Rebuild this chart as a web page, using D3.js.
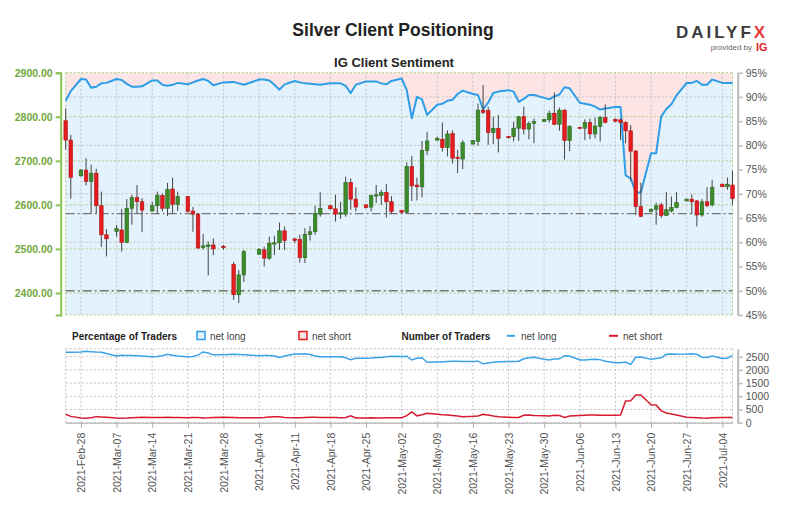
<!DOCTYPE html>
<html><head><meta charset="utf-8">
<script src="https://cdn.jsdelivr.net/npm/d3@7"></script>
<style>
body{margin:0;background:#fff;}
svg{display:block;font-family:"Liberation Sans",Arial,sans-serif;}
</style>
</head><body>
<svg id="c" width="800" height="520"></svg>
<script>
// ---------- DATA ----------
const dates = [
 "2021-02-25","2021-02-26",
 "2021-02-28","2021-03-01","2021-03-02","2021-03-03","2021-03-04","2021-03-05",
 "2021-03-07","2021-03-08","2021-03-09","2021-03-10","2021-03-11","2021-03-12",
 "2021-03-14","2021-03-15","2021-03-16","2021-03-17","2021-03-18","2021-03-19",
 "2021-03-21","2021-03-22","2021-03-23","2021-03-24","2021-03-25","2021-03-26",
 "2021-03-28","2021-03-30","2021-03-31","2021-04-01",
 "2021-04-04","2021-04-05","2021-04-06","2021-04-07","2021-04-08","2021-04-09",
 "2021-04-11","2021-04-12","2021-04-13","2021-04-14","2021-04-15","2021-04-16",
 "2021-04-18","2021-04-19","2021-04-20","2021-04-21","2021-04-22","2021-04-23",
 "2021-04-25","2021-04-26","2021-04-27","2021-04-28","2021-04-29","2021-04-30",
 "2021-05-02","2021-05-03","2021-05-04","2021-05-05","2021-05-06","2021-05-07",
 "2021-05-09","2021-05-10","2021-05-11","2021-05-12","2021-05-13","2021-05-14",
 "2021-05-16","2021-05-17","2021-05-18","2021-05-19","2021-05-20","2021-05-21",
 "2021-05-23","2021-05-24","2021-05-25","2021-05-26","2021-05-27","2021-05-28",
 "2021-05-30","2021-05-31","2021-06-01","2021-06-02","2021-06-03","2021-06-04",
 "2021-06-06","2021-06-07","2021-06-08","2021-06-09","2021-06-10","2021-06-11",
 "2021-06-13","2021-06-14","2021-06-15","2021-06-16","2021-06-17","2021-06-18",
 "2021-06-20","2021-06-21","2021-06-22","2021-06-23","2021-06-24","2021-06-25",
 "2021-06-27","2021-06-28","2021-06-29","2021-06-30","2021-07-01","2021-07-02",
 "2021-07-04","2021-07-05","2021-07-06"
];
const open = [
 2791,2747,
 2666,2679,2653,2672,2598,2532,
 2540,2543,2515,2592,2617,2607,
 2586,2598,2621,2592,2636,2601,
 2619,2586,2579,2503,2505,2509,
 2506,2465,2396,2441,
 2488,2498,2479,2511,2514,2541,
 2523,2522,2480,2533,2539,2579,
 2598,2591,2579,2579,2651,2613,
 2600,2595,2620,2621,2628,2607,
 2587,2583,2687,2645,2641,2723,
 2747,2749,2730,2762,2708,2704,
 2738,2744,2815,2814,2764,2773,
 2755,2755,2774,2800,2772,2785,
 2789,2793,2808,2783,2815,2746,
 2776,2774,2787,2761,2778,2798,
 2794,2793,2787,2768,2722,2596,
 2585,2590,2600,2576,2586,2594,
 2609,2613,2609,2577,2607,2600,
 2647,2641,2645
];
const high = [
 2819,2759,
 2681,2706,2691,2682,2630,2545,
 2554,2591,2613,2623,2645,2615,
 2607,2630,2626,2650,2662,2630,
 2620,2595,2581,2534,2517,2524,
 2509,2471,2452,2498,
 2502,2505,2528,2530,2560,2551,
 2524,2532,2547,2552,2598,2629,
 2600,2623,2607,2664,2660,2640,
 2601,2623,2645,2634,2647,2620,
 2588,2696,2711,2662,2745,2766,
 2755,2787,2769,2769,2725,2747,
 2747,2830,2872,2823,2800,2804,
 2756,2789,2802,2823,2789,2796,
 2795,2814,2855,2821,2817,2781,
 2777,2794,2796,2798,2802,2828,
 2796,2796,2790,2781,2725,2650,
 2592,2605,2605,2629,2619,2629,
 2614,2624,2611,2613,2640,2657,
 2648,2662,2677
];
const low = [
 2725,2614,
 2664,2644,2581,2581,2505,2483,
 2528,2494,2513,2555,2581,2538,
 2585,2579,2585,2575,2581,2586,
 2583,2539,2500,2498,2440,2486,
 2498,2384,2377,2425,
 2486,2460,2475,2486,2498,2498,
 2513,2469,2468,2519,2532,2573,
 2589,2562,2568,2573,2589,2585,
 2592,2585,2604,2600,2571,2580,
 2581,2581,2609,2610,2617,2713,
 2746,2721,2710,2694,2672,2681,
 2737,2734,2806,2736,2738,2719,
 2751,2744,2745,2760,2749,2740,
 2788,2787,2781,2768,2703,2722,
 2773,2747,2749,2751,2744,2785,
 2787,2747,2740,2654,2577,2572,
 2583,2555,2570,2575,2583,2592,
 2608,2579,2551,2573,2595,2596,
 2641,2634,2600
];
const close = [
 2747,2662,
 2679,2653,2672,2598,2532,2523,
 2546,2515,2592,2617,2607,2588,
 2598,2622,2592,2635,2601,2619,
 2585,2579,2502,2507,2509,2500,
 2503,2396,2441,2494,
 2499,2479,2513,2514,2541,2519,
 2519,2480,2533,2539,2581,2592,
 2591,2579,2582,2651,2613,2595,
 2594,2621,2623,2628,2607,2585,
 2583,2687,2643,2641,2723,2745,
 2751,2730,2761,2706,2705,2741,
 2746,2815,2810,2764,2774,2751,
 2753,2774,2800,2772,2785,2789,
 2794,2808,2783,2815,2746,2778,
 2774,2787,2761,2779,2798,2787,
 2790,2787,2768,2722,2596,2574,
 2590,2598,2576,2589,2594,2605,
 2613,2607,2577,2607,2598,2640,
 2641,2647,2614
];
// IG client sentiment: % of traders net long
const pctLong = [
 89.2,91.2,
 93.7,93.6,91.9,92.1,92.8,92.9,
 93.7,93.5,92.7,92.1,92.1,92.2,
 93.4,93.4,92.5,92.3,92.5,92.9,
 92.6,93.0,93.4,93.7,93.3,92.4,
 93.0,93.1,92.8,92.5,
 93.6,93.6,93.4,92.5,91.5,92.6,
 93.3,93.0,92.8,92.7,92.6,92.5,
 92.8,92.8,92.8,92.3,90.8,92.5,
 93.2,93.2,93.2,92.8,92.6,93.3,
 93.8,91.4,85.6,90.0,89.5,86.3,
 88.4,88.6,89.2,89.4,90.6,91.3,
 90.6,90.4,87.5,88.8,90.8,91.1,
 91.4,91.1,89.0,89.6,90.4,90.4,
 89.8,89.5,90.1,90.5,92.0,91.8,
 88.8,88.6,88.4,88.0,87.4,87.6,
 87.9,87.9,73.8,73.2,70.3,70.3,
 78.4,78.4,86.0,87.5,88.5,90.3,
 92.9,92.9,93.3,92.5,92.5,93.6,
 92.9,92.9,92.9
];
// number of traders
const numLong = [
 2667,2670,
 2680,2705,2690,2675,2665,2620,
 2530,2555,2550,2545,2540,2530,
 2500,2510,2540,2590,2560,2530,
 2500,2510,2560,2680,2640,2570,
 2570,2590,2580,2570,
 2540,2545,2550,2530,2470,2530,
 2600,2600,2610,2580,2530,2500,
 2500,2500,2500,2460,2390,2440,
 2440,2450,2470,2470,2500,2520,
 2510,2520,2375,2440,2460,2290,
 2300,2300,2320,2330,2330,2320,
 2320,2330,2230,2260,2290,2310,
 2320,2320,2330,2420,2460,2480,
 2400,2380,2410,2420,2540,2530,
 2380,2380,2390,2400,2390,2330,
 2270,2270,2300,2200,2480,2490,
 2400,2430,2460,2590,2600,2590,
 2600,2610,2590,2480,2470,2530,
 2430,2440,2550
];
const numShort = [
 320,240,
 175,170,190,230,220,210,
 175,170,175,190,200,210,
 200,195,200,210,200,195,
 190,195,200,180,185,200,
 210,200,190,185,
 190,200,215,225,230,200,
 185,190,200,210,205,195,
 195,200,190,200,260,180,
 180,190,180,180,185,185,
 190,265,410,260,300,355,
 320,300,290,270,250,225,
 240,255,315,290,250,225,
 210,200,200,280,290,270,
 260,250,280,270,200,250,
 270,280,290,290,280,280,
 285,295,820,830,1050,1050,
 680,670,450,370,330,290,
 210,200,190,175,170,190,
 200,200,200
];
const weekTicks = ["2021-02-28","2021-03-07","2021-03-14","2021-03-21","2021-03-28","2021-04-04",
 "2021-04-11","2021-04-18","2021-04-25","2021-05-02","2021-05-09","2021-05-16","2021-05-23",
 "2021-05-30","2021-06-06","2021-06-13","2021-06-20","2021-06-27","2021-07-04"];
const priceTicks = [2400,2500,2600,2700,2800,2900];
const pctTicks = [45,50,55,60,65,70,75,80,85,90,95];
const pctGrid = [60,70,80,90];
const countTicks = [0,500,1000,1500,2000,2500];
const priceLevel = 2580;
const pctLevel = 50;

// ---------- CHART ----------
const parse = d3.utcParse("%Y-%m-%d");
const D = dates.map(parse);
const W = weekTicks.map(parse);
const svg = d3.select("#c");
const X0 = 65.7, X1 = 732.5, Y0 = 72.7, Y1 = 315;
const B0 = 348.8, B1 = 422.7;
const x = d3.scaleUtc().domain([D[0], D[D.length - 1]]).range([X0, X1]);
const yP = d3.scaleLinear().domain([2350, 2900]).range([Y1, Y0]);
const yS = d3.scaleLinear().domain([45, 95]).range([Y1, Y0]);
const yN = d3.scaleLinear().domain([0, 2800]).range([B1, B0]);

// titles
svg.append("text").attr("x", 393).attr("y", 36).attr("text-anchor", "middle")
  .style("font-size", "17.5px").style("font-weight", "bold").attr("fill", "#222")
  .text("Silver Client Positioning");
svg.append("text").attr("x", 394).attr("y", 67).attr("text-anchor", "middle")
  .style("font-size", "13px").style("font-weight", "bold").attr("fill", "#222")
  .text("IG Client Sentiment");

// logo
const logo = svg.append("text").attr("x", 676).attr("y", 38)
  .style("font-size", "17px").style("font-weight", "bold").style("letter-spacing", "3px");
logo.append("tspan").attr("fill", "#3b3b3b").text("DAILYF");
logo.append("tspan").attr("fill", "#e23b3b").text("X");
svg.append("text").attr("x", 752).attr("y", 50).attr("text-anchor", "end")
  .style("font-size", "8px").attr("fill", "#666").text("provided by");
svg.append("text").attr("x", 756).attr("y", 51)
  .style("font-size", "11px").style("font-weight", "bold").attr("fill", "#e3242b").text("IG");

// sentiment background areas
svg.append("path").datum(D).attr("fill", "#fde4e5")
  .attr("d", d3.area().x(d => x(d)).y0(Y0).y1((d, i) => yS(pctLong[i])));
svg.append("path").datum(D).attr("fill", "#e3f2fc")
  .attr("d", d3.area().x(d => x(d)).y0(Y1).y1((d, i) => yS(pctLong[i])));

// grid
const grid = svg.append("g").attr("fill", "none");
W.forEach(d => {
  grid.append("line").attr("x1", x(d)).attr("x2", x(d)).attr("y1", Y0).attr("y2", Y1)
    .attr("stroke", "#c4c4c4").attr("stroke-dasharray", "2,2");
  grid.append("line").attr("x1", x(d)).attr("x2", x(d)).attr("y1", B0).attr("y2", B1)
    .attr("stroke", "#c4c4c4").attr("stroke-dasharray", "2,2");
});
pctGrid.forEach(p => {
  grid.append("line").attr("x1", X0).attr("x2", X1).attr("y1", yS(p)).attr("y2", yS(p))
    .attr("stroke", "#c4c4c4").attr("stroke-dasharray", "2,2");
});
priceTicks.forEach(p => {
  grid.append("line").attr("x1", X0).attr("x2", X1).attr("y1", yP(p)).attr("y2", yP(p))
    .attr("stroke", "#a9d17f").attr("stroke-dasharray", "2,2");
});
// plot frame
[[X0, Y0, X0, Y1], [X1, Y0, X1, Y1], [X0, Y1, X1, Y1]].forEach(l => {
  grid.append("line").attr("x1", l[0]).attr("y1", l[1]).attr("x2", l[2]).attr("y2", l[3])
    .attr("stroke", "#a9d17f").attr("stroke-dasharray", "2,2");
});
countTicks.concat([2800]).forEach(v => {
  grid.append("line").attr("x1", X0).attr("x2", X1).attr("y1", yN(v)).attr("y2", yN(v))
    .attr("stroke", "#c4c4c4").attr("stroke-dasharray", "2,2");
});
[X0, X1].forEach(v => {
  grid.append("line").attr("x1", v).attr("x2", v).attr("y1", B0).attr("y2", B1)
    .attr("stroke", "#c4c4c4").attr("stroke-dasharray", "2,2");
});

// reference levels (dash-dot)
svg.append("line").attr("x1", X0).attr("x2", X1).attr("y1", yP(priceLevel)).attr("y2", yP(priceLevel))
  .attr("stroke", "#777").attr("stroke-width", 1.3).attr("stroke-dasharray", "9,3,2,3");
svg.append("line").attr("x1", X0).attr("x2", X1).attr("y1", yS(pctLevel)).attr("y2", yS(pctLevel))
  .attr("stroke", "#777").attr("stroke-width", 1.3).attr("stroke-dasharray", "9,3,2,3");

// sentiment line
svg.append("path").datum(D).attr("fill", "none").attr("stroke", "#2c9de6").attr("stroke-width", 2)
  .attr("stroke-linejoin", "round")
  .attr("d", d3.line().x(d => x(d)).y((d, i) => yS(pctLong[i])));

// candles
const cg = svg.append("g");
D.forEach((d, i) => {
  const up = close[i] >= open[i];
  cg.append("line").attr("x1", x(d)).attr("x2", x(d)).attr("y1", yP(high[i])).attr("y2", yP(low[i]))
    .attr("stroke", "#444").attr("stroke-width", 1);
  const yt = yP(Math.max(open[i], close[i])), yb = yP(Math.min(open[i], close[i]));
  cg.append("rect").attr("x", x(d) - 1.8).attr("width", 3.6)
    .attr("y", yt).attr("height", Math.max(1.2, yb - yt))
    .attr("fill", up ? "#3d8b2b" : "#e31c1f")
    .attr("stroke", up ? "#2c6a1d" : "#b51418").attr("stroke-width", 0.6);
});

// axes
const gl = svg.append("g").attr("transform", "translate(60.7,0)")
  .call(d3.axisLeft(yP).tickValues(priceTicks).tickFormat(d3.format(".2f")).tickSize(5).tickSizeOuter(5).tickPadding(3));
gl.select(".domain").attr("stroke", "#8cc152").attr("stroke-width", 2);
gl.selectAll(".tick line").attr("stroke", "#8cc152").attr("stroke-width", 2);
gl.selectAll("text").attr("fill", "#72a83a").style("font-size", "10.5px").style("font-weight", "bold")
  .style("font-family", "'Liberation Sans',Arial,sans-serif");

const gr = svg.append("g").attr("transform", "translate(737.7,0)")
  .call(d3.axisRight(yS).tickValues(pctTicks).tickFormat(d => d + "%").tickSize(5).tickSizeOuter(0).tickPadding(3));
gr.select(".domain").attr("stroke", "#bbb").attr("stroke-width", 2);
gr.selectAll(".tick line").attr("stroke", "#bbb").attr("stroke-width", 1.5);
gr.selectAll("text").attr("fill", "#555").style("font-size", "10.5px")
  .style("font-family", "'Liberation Sans',Arial,sans-serif");

const gn = svg.append("g").attr("transform", "translate(737.7,0)")
  .call(d3.axisRight(yN).tickValues(countTicks).tickFormat(d3.format("d")).tickSize(5).tickSizeOuter(0).tickPadding(3));
gn.select(".domain").attr("stroke", "#bbb").attr("stroke-width", 2);
gn.selectAll(".tick line").attr("stroke", "#bbb").attr("stroke-width", 1.5);
gn.selectAll("text").attr("fill", "#555").style("font-size", "10.5px")
  .style("font-family", "'Liberation Sans',Arial,sans-serif");

const gx = svg.append("g").attr("transform", `translate(0,${B1})`)
  .call(d3.axisBottom(x).tickValues(W).tickFormat(d3.utcFormat("%Y-%b-%d")).tickSize(5).tickSizeOuter(0));
gx.select(".domain").attr("stroke", "#aaa");
gx.selectAll(".tick line").attr("stroke", "#aaa");
gx.selectAll("text").attr("fill", "#555").style("font-size", "10.5px")
  .style("font-family", "'Liberation Sans',Arial,sans-serif")
  .attr("transform", "rotate(-90)").attr("x", -10).attr("y", 0).attr("dy", "0.35em")
  .style("text-anchor", "end");

// bottom panel lines
svg.append("path").datum(D).attr("fill", "none").attr("stroke", "#3aa3e8").attr("stroke-width", 1.5)
  .attr("d", d3.line().x(d => x(d)).y((d, i) => yN(numLong[i])));
svg.append("path").datum(D).attr("fill", "none").attr("stroke", "#d61a2f").attr("stroke-width", 1.5)
  .attr("d", d3.line().x(d => x(d)).y((d, i) => yN(numShort[i])));

// legend
const lg = svg.append("g").style("font-size", "10px");
lg.append("text").attr("x", 72).attr("y", 339.5).style("font-weight", "bold").attr("fill", "#222")
  .text("Percentage of Traders");
lg.append("rect").attr("x", 197).attr("y", 331.5).attr("width", 8).attr("height", 8)
  .attr("fill", "#e3f2fc").attr("stroke", "#2c9de6").attr("stroke-width", 1.5);
lg.append("text").attr("x", 210).attr("y", 339.5).attr("fill", "#444").text("net long");
lg.append("rect").attr("x", 299).attr("y", 331.5).attr("width", 8).attr("height", 8)
  .attr("fill", "#fde4e5").attr("stroke", "#e31c1f").attr("stroke-width", 1.5);
lg.append("text").attr("x", 312).attr("y", 339.5).attr("fill", "#444").text("net short");
lg.append("text").attr("x", 401.5).attr("y", 339.5).style("font-weight", "bold").attr("fill", "#222")
  .text("Number of Traders");
lg.append("line").attr("x1", 507).attr("x2", 515).attr("y1", 335.8).attr("y2", 335.8)
  .attr("stroke", "#3aa3e8").attr("stroke-width", 2);
lg.append("text").attr("x", 521).attr("y", 339.5).attr("fill", "#444").text("net long");
lg.append("line").attr("x1", 609).attr("x2", 618).attr("y1", 335.8).attr("y2", 335.8)
  .attr("stroke", "#d61a2f").attr("stroke-width", 2);
lg.append("text").attr("x", 623).attr("y", 339.5).attr("fill", "#444").text("net short");
</script>
</body></html>
